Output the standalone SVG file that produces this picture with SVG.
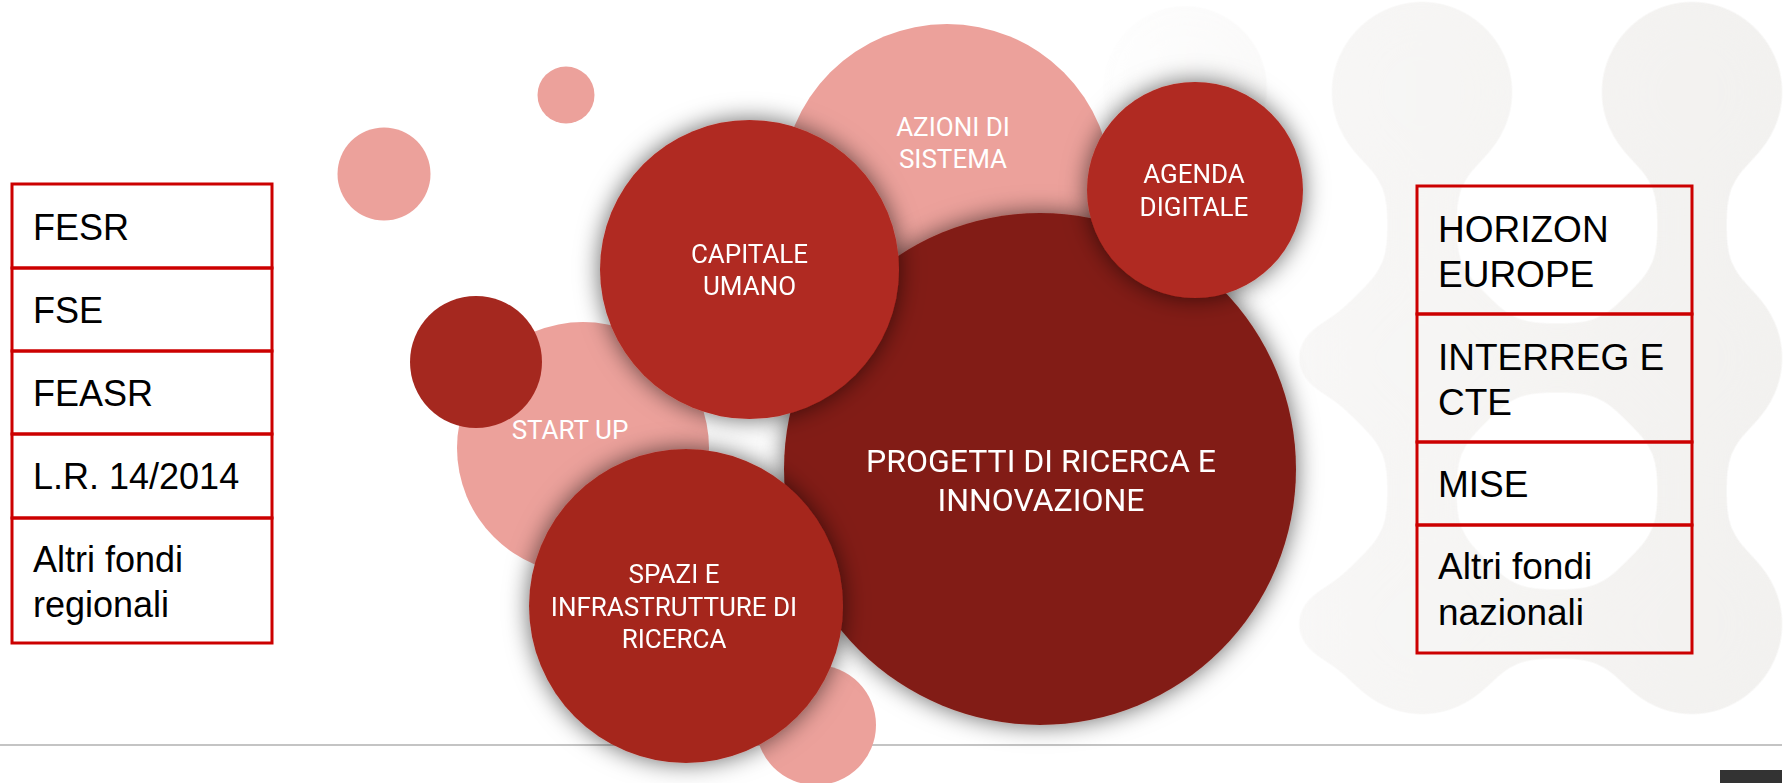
<svg xmlns="http://www.w3.org/2000/svg" width="1787" height="783" viewBox="0 0 1787 783">
<defs>
<style>
.pink{fill:#eca19b}
.red{fill:#b02a21}
.red2{fill:#a5281f}
.dark{fill:#821e17}
.lbl{font-family:Roboto,"Liberation Sans",sans-serif;fill:#ffffff;text-anchor:middle;font-size:26px}
.cell{fill:none;stroke:#cc0000;stroke-width:3}
.tl{font-family:"Liberation Sans",Arial,sans-serif;fill:#000000;font-size:36px}
.tr{font-family:"Liberation Sans",Arial,sans-serif;fill:#000000;font-size:37px}
</style>
<filter id="sh" x="-30%" y="-30%" width="160%" height="160%">
<feDropShadow dx="0" dy="0" stdDeviation="12" flood-color="#000000" flood-opacity="0.6"/>
</filter>
<filter id="goo" x="-20%" y="-20%" width="140%" height="140%">
<feGaussianBlur in="SourceGraphic" stdDeviation="22" result="b"/>
<feColorMatrix in="b" type="matrix" values="1 0 0 0 0  0 1 0 0 0  0 0 1 0 0  0 0 0 30 -12"/>
</filter>
<linearGradient id="bgg" gradientUnits="userSpaceOnUse" x1="1120" y1="0" x2="1787" y2="0">
<stop offset="0" stop-color="#fefefe"/>
<stop offset="0.35" stop-color="#f7f6f5"/>
<stop offset="1" stop-color="#f2f1ef"/>
</linearGradient>
</defs>
<rect width="1787" height="783" fill="#ffffff"/>

<g id="background" filter="url(#goo)" fill="url(#bgg)">
<circle cx="1422" cy="92" r="88"/>
<circle cx="1692" cy="92" r="88"/>
<circle cx="1422" cy="358" r="88"/>
<circle cx="1692" cy="358" r="88"/>
<circle cx="1422" cy="624" r="88"/>
<circle cx="1692" cy="624" r="88"/>
<rect x="1392" y="92" width="60" height="532"/>
<rect x="1662" y="92" width="60" height="532"/>
<rect x="1300" y="328" width="420" height="60"/>
<rect x="1300" y="594" width="420" height="60"/>
<circle cx="1185" cy="88" r="80"/>
</g>

<g id="connectors">
<line x1="0" y1="745" x2="1782" y2="745" stroke="#c4c4c4" stroke-width="2"/>
<rect x="1720" y="770" width="62" height="13" fill="#333333"/>
</g>

<g id="dot-top"><circle class="pink" cx="566" cy="95" r="28.5"/></g>
<g id="dot-left"><circle class="pink" cx="384" cy="174" r="46.5"/></g>

<g id="start-up">
<circle class="pink" cx="583" cy="448" r="126"/>
<text class="lbl" x="570" y="439">START UP</text>
</g>

<g id="azioni-di-sistema">
<circle class="pink" cx="947" cy="189" r="165"/>
<text class="lbl" x="953" y="136">AZIONI DI</text>
<text class="lbl" x="953" y="168">SISTEMA</text>
</g>

<g id="dot-bottom"><circle class="pink" cx="816" cy="725" r="60"/></g>

<g id="progetti" filter="url(#sh)">
<circle class="dark" cx="1040" cy="469" r="256"/>
<text class="lbl" x="1041" y="472" style="font-size:32px">PROGETTI DI RICERCA E</text>
<text class="lbl" x="1041" y="511" style="font-size:32px">INNOVAZIONE</text>
</g>

<g id="dot-dark"><circle class="red2" cx="476" cy="362" r="66"/></g>

<g id="capitale-umano" filter="url(#sh)">
<circle class="red" cx="749.5" cy="269.5" r="149.5"/>
<text class="lbl" x="749.5" y="263">CAPITALE</text>
<text class="lbl" x="749.5" y="295">UMANO</text>
</g>

<g id="agenda-digitale" filter="url(#sh)">
<circle class="red" cx="1195" cy="190" r="108"/>
<text class="lbl" x="1194" y="183">AGENDA</text>
<text class="lbl" x="1194" y="216">DIGITALE</text>
</g>

<g id="spazi" filter="url(#sh)">
<circle class="red2" cx="686" cy="606" r="157"/>
<text class="lbl" x="674" y="583">SPAZI E</text>
<text class="lbl" x="674" y="616">INFRASTRUTTURE DI</text>
<text class="lbl" x="674" y="648">RICERCA</text>
</g>

<g id="fesr"><rect class="cell" x="12" y="184" width="260" height="84"/><text class="tl" x="33" y="240">FESR</text></g>
<g id="fse"><rect class="cell" x="12" y="268" width="260" height="83"/><text class="tl" x="33" y="323">FSE</text></g>
<g id="feasr"><rect class="cell" x="12" y="351" width="260" height="83"/><text class="tl" x="33" y="406">FEASR</text></g>
<g id="lr"><rect class="cell" x="12" y="434" width="260" height="84"/><text class="tl" x="33" y="489">L.R. 14/2014</text></g>
<g id="altri-regionali"><rect class="cell" x="12" y="518" width="260" height="125"/><text class="tl" x="33" y="572">Altri fondi</text><text class="tl" x="33" y="617">regionali</text></g>

<g id="horizon"><rect class="cell" x="1417" y="186" width="275" height="128"/><text class="tr" x="1438" y="242">HORIZON</text><text class="tr" x="1438" y="287">EUROPE</text></g>
<g id="interreg"><rect class="cell" x="1417" y="314" width="275" height="128"/><text class="tr" x="1438" y="370">INTERREG E</text><text class="tr" x="1438" y="415">CTE</text></g>
<g id="mise"><rect class="cell" x="1417" y="442" width="275" height="83"/><text class="tr" x="1438" y="497">MISE</text></g>
<g id="altri-nazionali"><rect class="cell" x="1417" y="525" width="275" height="128"/><text class="tr" x="1438" y="579">Altri fondi</text><text class="tr" x="1438" y="625">nazionali</text></g>
</svg>
